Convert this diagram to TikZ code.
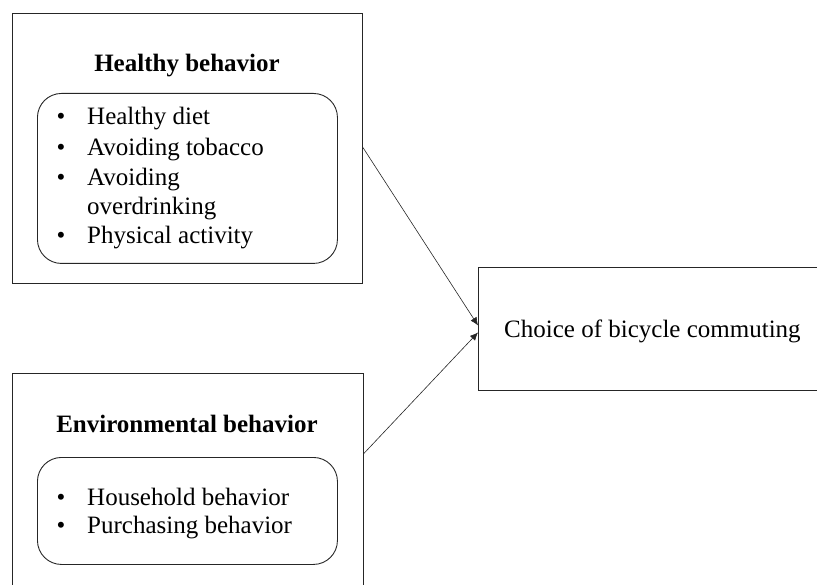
\documentclass[tikz,border=0pt]{standalone}
\usepackage{fontspec}
\setmainfont{Liberation Serif}
\usetikzlibrary{arrows.meta}
\begin{document}
\begin{tikzpicture}[x=1pt,y=-1pt,
  outerbox/.style={draw=black!85, line width=0.9pt, minimum width=#1, anchor=north west, inner sep=0pt},
  innerbox/.style={draw=black!85, line width=0.9pt, rounded corners=24pt, anchor=north west, inner sep=0pt},
  title/.style={font=\fontsize{25}{30}\selectfont\bfseries, anchor=base, inner sep=0pt},
  item/.style={font=\fontsize{25}{30}\selectfont, anchor=base west, inner sep=0pt},
  bul/.style={font=\fontsize{25}{30}\selectfont, anchor=base, inner sep=0pt},
  conn/.style={draw=black!85, line width=0.6pt, -{Latex[length=8pt,width=7pt]}}]
\useasboundingbox (0,0) rectangle (817,585);
\clip (0,0) rectangle (817,585);
% top group
\node[outerbox=350pt, minimum height=270pt] (hb) at (12,13) {};
\node[innerbox, minimum width=300pt, minimum height=170pt] (hbl) at (37,93) {};
\node[title] (hbt) at (187,72) {Healthy behavior};
\node[bul] (b1) at (61,125) {•};
\node[item] (i1) at (87,125) {Healthy diet};
\node[bul] (b2) at (61,156) {•};
\node[item] (i2) at (87,156) {Avoiding tobacco};
\node[bul] (b3) at (61,186) {•};
\node[item] (i3) at (87,186) {Avoiding};
\node[item] (i3b) at (87,215) {overdrinking};
\node[bul] (b4) at (61,244) {•};
\node[item] (i4) at (87,244) {Physical activity};
% bottom group
\node[outerbox=351pt, minimum height=240pt] (eb) at (12,373) {};
\node[innerbox, minimum width=300pt, minimum height=107pt] (ebl) at (37,457) {};
\node[title] (ebt) at (187,432) {Environmental behavior};
\node[bul] (b5) at (61,505) {•};
\node[item] (i5) at (87,505) {Household behavior};
\node[bul] (b6) at (61,533) {•};
\node[item] (i6) at (87,533) {Purchasing behavior};
% right box
\node[outerbox=360pt, minimum height=123pt] (ch) at (478,267) {};
\node[item] (cht) at (504,338) {Choice of bicycle commuting};
% connectors
\draw[conn] ([yshift=1pt]hb.east) -- ([yshift=3.5pt]ch.west);
\draw[conn] ([yshift=40pt]eb.east) -- ([yshift=-3.5pt]ch.west);
\end{tikzpicture}
\end{document}
